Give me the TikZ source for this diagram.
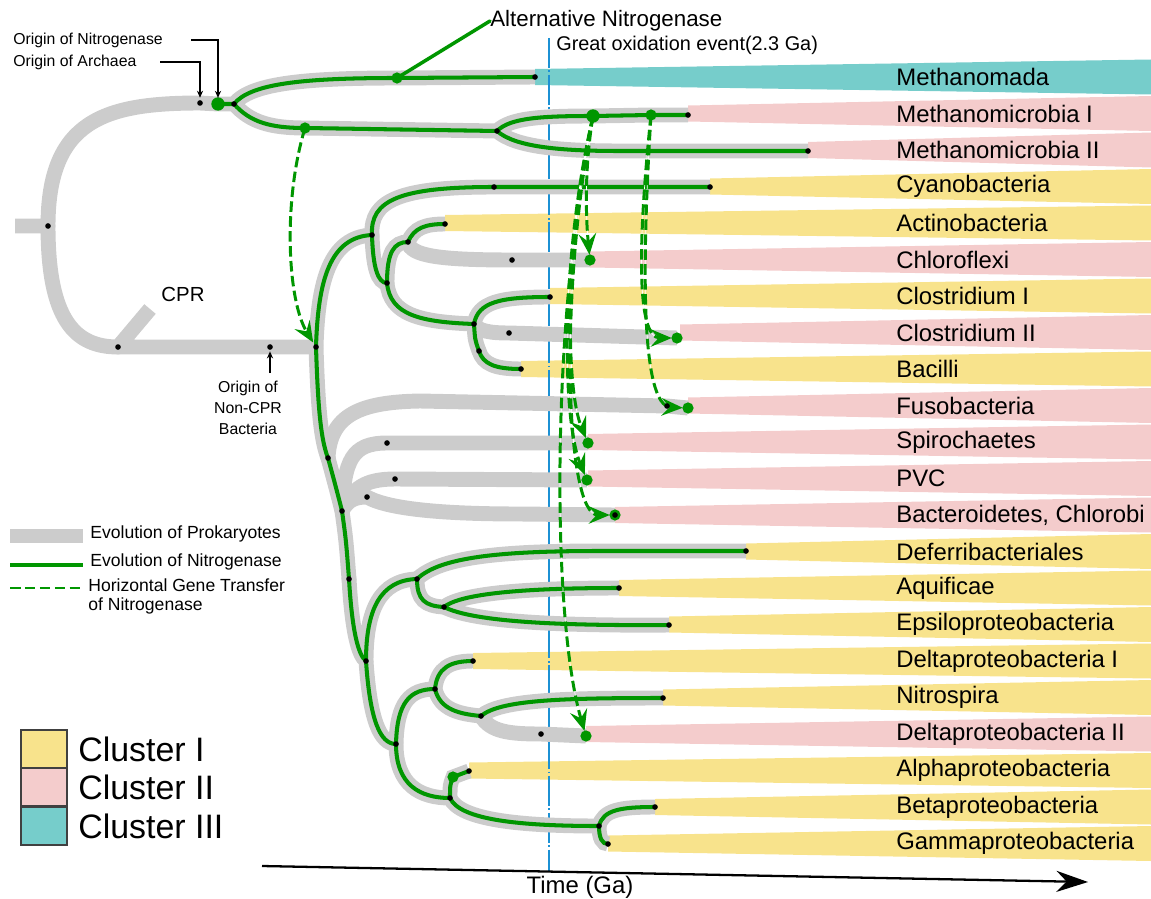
\documentclass[tikz,border=0pt]{standalone}
\usepackage{fontspec}
\setmainfont{Liberation Sans}
\usetikzlibrary{arrows.meta}

\definecolor{clusterI}{RGB}{248,227,140}
\definecolor{clusterII}{RGB}{244,204,204}
\definecolor{clusterIII}{RGB}{118,205,203}
\definecolor{lineagegray}{RGB}{204,204,204}
\definecolor{nifgreen}{RGB}{0,150,0}
\definecolor{goeblue}{RGB}{28,145,212}

\begin{document}
\begin{tikzpicture}[x=0.02cm, y=-0.02cm,
        every node/.style={inner sep=0pt},
        lineage/.style={draw=lineagegray, line width=8.5pt},
        nifline/.style={draw=nifgreen, line width=2.3pt, line cap=round},
        hgtline/.style={draw=nifgreen, line width=1.7pt, dash pattern=on 6pt off 2.5pt,
            preaction={draw=white, solid}},
        hgt/.style={hgtline, -{Stealth[length=12pt, width=10pt, inset=4.5pt]}, shorten >=3pt},
        notearrow/.style={draw, line width=0.7pt, -{Stealth[length=4pt, width=3.5pt]}},
        taxonlabel/.style={anchor=west, font=\fontsize{13.6}{16}\selectfont},
        smalltext/.style={font=\fontsize{9}{12}\selectfont},
        legendtext/.style={anchor=west, font=\fontsize{10}{12}\selectfont},
        clusterkey/.style={draw=black!75, line width=0.6pt, minimum width=0.92cm, minimum height=0.76cm},
    ]
    \useasboundingbox (0,0) rectangle (1151,898);

    % cluster bands
    \foreach \i/\x/\c in {0/535/clusterIII, 1/688/clusterII, 2/808/clusterII, 3/710/clusterI,
            4/445/clusterI, 5/590/clusterII, 6/550/clusterI, 7/680/clusterII, 8/521/clusterI,
            9/688/clusterII, 10/588/clusterII, 11/588/clusterII, 12/615/clusterII, 13/746/clusterI,
            14/619/clusterI, 15/669/clusterI, 16/473/clusterI, 17/663/clusterI, 18/586/clusterII,
            19/469/clusterI, 20/655/clusterI, 21/608/clusterI}
        \fill[\c] ({\x},{77+36.5*\i-8}) -- (1151,{77+36.5*\i-17.5}) -- (1151,{77+36.5*\i+17.5}) -- ({\x},{77+36.5*\i+8}) -- cycle;

    % taxa
    \foreach \i/\name in {0/Methanomada, 1/Methanomicrobia I, 2/Methanomicrobia II, 3/Cyanobacteria,
            4/Actinobacteria, 5/Chloroflexi, 6/Clostridium I, 7/Clostridium II, 8/Bacilli,
            9/Fusobacteria, 10/Spirochaetes, 11/PVC, 12/{Bacteroidetes, Chlorobi}, 13/Deferribacteriales,
            14/Aquificae, 15/Epsiloproteobacteria, 16/Deltaproteobacteria I, 17/Nitrospira,
            18/Deltaproteobacteria II, 19/Alphaproteobacteria, 20/Betaproteobacteria, 21/Gammaproteobacteria}
        \node[taxonlabel] (taxon\i) at (896,{77+36.5*\i}) {\name};

    % great oxidation event
    \coordinate (goetop) at (549,38);
    \coordinate (goebottom) at (549,872);
    \draw[goeblue, line width=1.3pt, dash pattern=on 17pt off 1.5pt on 1pt off 1.5pt] (goetop) -- (goebottom);
    \node at (556,45) (goe) [anchor=west, font=\fontsize{11.3}{13}\selectfont] {Great oxidation event(2.3 Ga)};

    % archaea
    \coordinate (rootstub) at (15,226);
    \coordinate (root) at (48,226);
    \coordinate (arch) at (200,103);
    \coordinate (nif) at (218,104);
    \coordinate (archsplit) at (234,104);
    \coordinate (altnif) at (397,78);
    \coordinate (mada) at (535,77);
    \coordinate (mmhgt) at (305,128);
    \coordinate (mmsplit) at (497,131);
    \coordinate (mmhgtA) at (593,116);
    \coordinate (mmhgtB) at (651,115);
    \coordinate (mmI) at (688,115);
    \coordinate (mmII) at (808,151);

    % bacteria
    \coordinate (cprsplit) at (118,347);
    \coordinate (cprtip) at (150,309);
    \coordinate (noncpr) at (270,347);
    \coordinate (bact) at (316,347);
    \coordinate (n1) at (372,235);
    \coordinate (cyanomid) at (494,187);
    \coordinate (cyano) at (710,187);
    \coordinate (n2) at (387,283);
    \coordinate (n3) at (408,242);
    \coordinate (actino) at (445,224);
    \coordinate (chloromid) at (512,260);
    \coordinate (chloro) at (590,260);
    \coordinate (n4) at (474,324);
    \coordinate (clostI) at (550,297);
    \coordinate (clostIImid) at (509,333);
    \coordinate (clostII) at (677,338);
    \coordinate (n5) at (479,351);
    \coordinate (bacilli) at (521,369);
    \coordinate (n6) at (328,458);
    \coordinate (fusomid) at (667,406);
    \coordinate (fuso) at (688,408);
    \coordinate (n7) at (342,511);
    \coordinate (spiromid) at (387,443);
    \coordinate (spiro) at (588,443);
    \coordinate (pvcmid) at (395,479);
    \coordinate (pvc) at (587,480);
    \coordinate (bctmid) at (367,497);
    \coordinate (bct) at (615,515);
    \coordinate (n8) at (349,579);
    \coordinate (n9) at (366,661);
    \coordinate (n10) at (417,579);
    \coordinate (defer) at (746,551);
    \coordinate (n11) at (444,607);
    \coordinate (aquif) at (619,588);
    \coordinate (epsilon) at (669,625);
    \coordinate (n12) at (396,744);
    \coordinate (n13) at (435,689);
    \coordinate (deltaI) at (473,661);
    \coordinate (n14) at (481,716);
    \coordinate (nitro) at (663,698);
    \coordinate (deltaIImid) at (541,734);
    \coordinate (deltaII) at (586,736);
    \coordinate (n15) at (450,798);
    \coordinate (alphamid) at (453,777);
    \coordinate (alpha) at (469,771);
    \coordinate (n16) at (599,826);
    \coordinate (beta) at (655,807);
    \coordinate (gamma) at (608,844);

    % prokaryotes only
    \draw[lineage] (rootstub) -- (root)
        (root) .. controls (48,120) and (105,103) .. (arch) -- (nif)
        (root) .. controls (48,320) and (75,347) .. (cprsplit) -- (noncpr) -- (bact)
        (cprsplit) -- (cprtip)
        (n3) .. controls (410,256) and (440,260) .. (chloromid) -- (chloro)
        (n4) .. controls (478,331) and (490,333) .. (clostIImid) -- (clostII)
        (n6) .. controls (330,415) and (360,402) .. (420,401) -- (fusomid) -- (fuso)
        (n7) .. controls (344,460) and (352,443) .. (spiromid) -- (spiro)
        (n7) .. controls (352,488) and (365,479) .. (pvcmid) -- (pvc)
        (n7) .. controls (348,500) and (355,497) .. (bctmid) .. controls (390,510) and (450,514) .. (520,514) -- (bct)
        (n14) .. controls (490,732) and (510,734) .. (deltaIImid) -- (deltaII);
    \foreach \p in {root,cprsplit,bact,archsplit,mmsplit,n1,n2,n3,n4,n5,n6,n7,n8,n9,n10,n11,n12,n13,n14,n15,n16}
        \fill[lineagegray] (\p) circle (4.25pt);

    % prokaryotes with nitrogenase
    \foreach \s in {lineage, nifline}
        \draw[\s] (nif) -- (archsplit)
            (archsplit) .. controls (250,84) and (300,78) .. (altnif) -- (mada)
            (archsplit) .. controls (250,122) and (270,128) .. (mmhgt) -- (mmsplit)
            (mmsplit) .. controls (510,118) and (540,116) .. (mmhgtA) -- (mmhgtB) -- (mmI)
            (mmsplit) .. controls (515,147) and (560,151) .. (620,151) -- (mmII)
            (bact) .. controls (318,280) and (330,237) .. (n1)
            (n1) .. controls (370,200) and (400,187) .. (cyanomid) -- (cyano)
            (n1) .. controls (373,268) and (378,283) .. (n2)
            (n2) .. controls (387,252) and (394,242) .. (n3)
            (n3) .. controls (414,228) and (425,224) .. (actino)
            (n2) .. controls (390,315) and (420,322) .. (n4)
            (n4) .. controls (478,302) and (500,297) .. (clostI)
            (n4) .. controls (475,340) .. (n5)
            (n5) .. controls (483,364) and (495,369) .. (bacilli)
            (bact) .. controls (318,410) and (321,440) .. (n6)
            (n6) .. controls (334,480) and (338,495) .. (n7)
            (n7) .. controls (346,540) .. (n8)
            (n8) .. controls (352,630) and (358,655) .. (n9)
            (n9) .. controls (366,610) and (380,580) .. (n10)
            (n10) .. controls (440,557) and (500,551) .. (600,551) -- (defer)
            (n10) .. controls (417,600) and (425,606) .. (n11)
            (n11) .. controls (460,594) and (520,588) .. (aquif)
            (n11) .. controls (470,620) and (540,626) .. (epsilon)
            (n9) .. controls (370,720) and (380,744) .. (n12)
            (n12) .. controls (397,702) and (410,689) .. (n13)
            (n13) .. controls (437,668) and (450,661) .. (deltaI)
            (n13) .. controls (440,710) and (460,714) .. (n14)
            (n14) .. controls (500,700) and (560,698) .. (nitro)
            (n12) .. controls (396,785) and (420,798) .. (n15)
            (n15) .. controls (450,785) .. (alphamid) -- (alpha)
            (n15) .. controls (460,820) and (520,826) .. (n16)
            (n16) .. controls (603,810) and (620,807) .. (beta)
            (n16) .. controls (599,838) and (602,844) .. (gamma);

    % horizontal gene transfer
    \draw[hgt] (mmhgt) .. controls (283,200) and (287,300) .. (bact);
    \draw[hgt] (mmhgtA) .. controls (584,170) and (586,220) .. (chloro);
    \draw[hgt] (mmhgtA) .. controls (564,250) and (566,390) .. (spiro);
    \draw[hgt] (mmhgtA) .. controls (560,260) and (562,420) .. (pvc);
    \draw[hgt] (mmhgtA) .. controls (558,300) and (566,515) .. (bct);
    \draw[hgt] (mmhgtA) .. controls (550,330) and (552,620) .. (deltaII);
    \draw[hgt] (mmhgtB) .. controls (638,240) and (636,338) .. (clostII);
    \draw[hgt] (mmhgtB) .. controls (642,260) and (640,406) .. (fuso);

    % alternative nitrogenase
    \node at (490,21) (altlabel) [anchor=west, font=\fontsize{12.7}{15}\selectfont] {Alternative Nitrogenase};
    \draw[nifline, line width=2pt] (altnif) -- (altlabel.west);

    % dots
    \foreach \p in {nif,mmhgtA}
        \fill[nifgreen] (\p) circle (3.8pt);
    \foreach \p in {altnif,mmhgt,mmhgtB,chloro,clostII,fuso,spiro,pvc,bct,deltaII,alphamid}
        \fill[nifgreen] (\p) circle (3.2pt);
    \foreach \p in {root,cprsplit,arch,archsplit,mada,mmsplit,mmI,mmII,noncpr,bact,n1,cyanomid,cyano,
            n2,n3,actino,chloromid,n4,clostI,clostIImid,n5,bacilli,n6,fusomid,n7,spiromid,pvcmid,bctmid,bct,
            n8,n9,n10,defer,n11,aquif,epsilon,n12,n13,deltaI,n14,nitro,deltaIImid,n15,alpha,n16,beta,gamma}
        \fill (\p) circle (1.6pt);

    % annotations
    \node at (13,40) (nifnote) [anchor=west, smalltext] {Origin of Nitrogenase};
    \node at (13,62) (archnote) [anchor=west, smalltext] {Origin of Archaea};
    \coordinate (nifelbow) at (191,40);
    \coordinate (archelbow) at (160,62);
    \draw[notearrow, shorten >=3.5pt] (nifelbow) -| (nif);
    \draw[notearrow, shorten >=3pt] (archelbow) -| (arch);
    \node at (183,294) (cpr) [font=\fontsize{11.6}{14}\selectfont] {CPR};
    \node at (248,408) (noncprnote) [smalltext, align=center] {Origin of\\Non-CPR\\Bacteria};
    \coordinate (noncprfoot) at (270,373);
    \draw[notearrow, shorten >=2.5pt] (noncprfoot) -- (noncpr);

    % legend
    \coordinate (keygrayA) at (10,536);
    \coordinate (keygrayB) at (83,536);
    \coordinate (keygreenA) at (10,565);
    \coordinate (keygreenB) at (83,565);
    \coordinate (keyhgtA) at (10,588);
    \coordinate (keyhgtB) at (83,588);
    \draw[lineagegray, line width=7.5pt] (keygrayA) -- (keygrayB);
    \draw[nifgreen, line width=2.8pt] (keygreenA) -- (keygreenB);
    \draw[hgtline, line width=1.4pt] (keyhgtA) -- (keyhgtB);
    \node at (90,534) (keygraytext) [legendtext] {Evolution of Prokaryotes};
    \node at (90,562) (keygreentext) [legendtext] {Evolution of Nitrogenase};
    \node at (88,585) (keyhgttext) [legendtext] {Horizontal Gene Transfer};
    \node at (88,606) (keyhgttext2) [legendtext] {of Nitrogenase};

    \node at (44,749) (keyI) [clusterkey, fill=clusterI] {};
    \node at (44,787) (keyII) [clusterkey, fill=clusterII] {};
    \node at (44,826) (keyIII) [clusterkey, fill=clusterIII] {};
    \node at (78,749) (keyItext) [anchor=west, font=\fontsize{19.3}{22}\selectfont] {Cluster I};
    \node at (78,787) (keyIItext) [anchor=west, font=\fontsize{19.3}{22}\selectfont] {Cluster II};
    \node at (78,826) (keyIIItext) [anchor=west, font=\fontsize{19.3}{22}\selectfont] {Cluster III};

    % time
    \coordinate (timestart) at (262,866);
    \coordinate (timeend) at (1088,882);
    \draw[line width=1.3pt, -{Stealth[length=18pt, width=12pt]}] (timestart) -- (timeend);
    \node at (580,887) (timelabel) [font=\fontsize{13.6}{16}\selectfont] {Time (Ga)};
\end{tikzpicture}
\end{document}
